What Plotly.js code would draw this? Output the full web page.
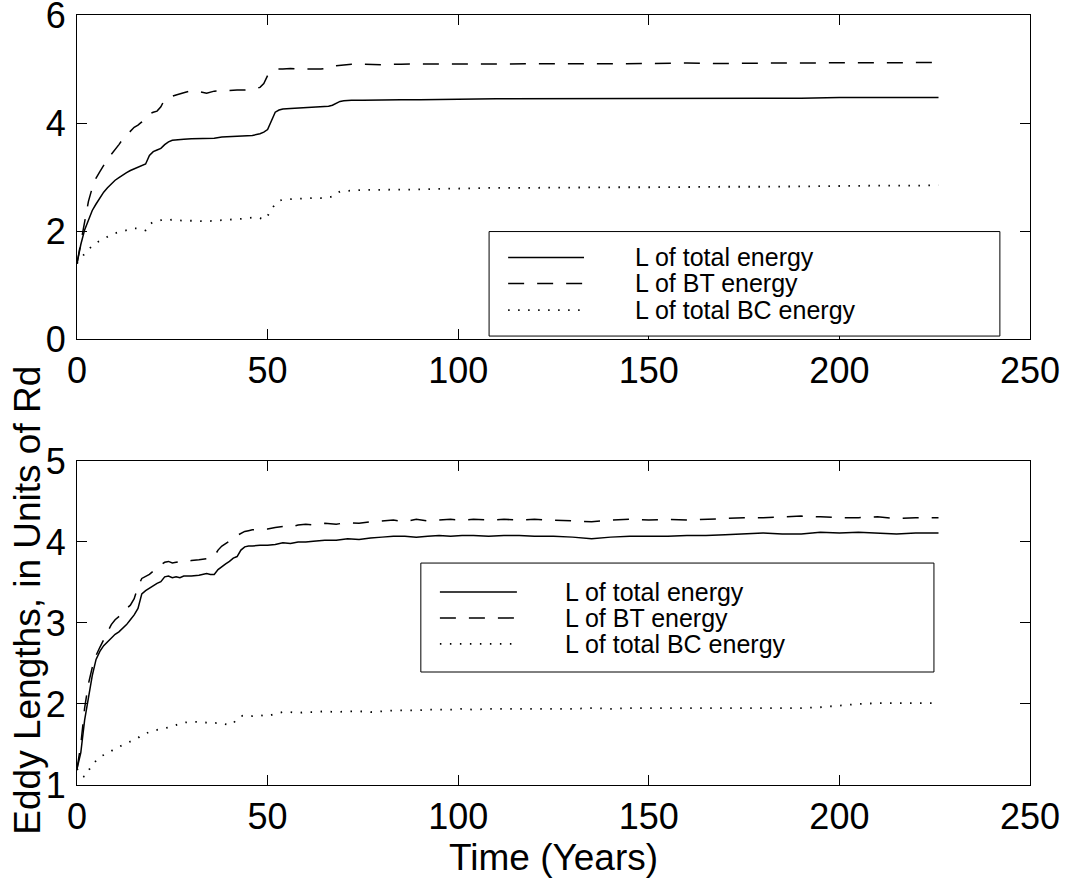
<!DOCTYPE html>
<html>
<head>
<meta charset="utf-8">
<script src="https://cdn.plot.ly/plotly-3.0.1.min.js"></script>
<style>html,body{margin:0;padding:0;background:#fff;}#chart{width:1068px;height:878px;}</style>
</head>
<body>
<div id="chart"></div>
<script>
// ---------- data ----------
const topYears = [0,1,2,3,4,5,6,7,8,9,10,11,12,13,14,15,16,17,18,19,20,21,22,23,24,25,26,
  28,30,32,34,36,38,40,42,44,46,48,49,50,51,52,53,54,56,58,60,62,64,66,67,68,69,70,
  72,75,80,85,90,95,100,110,120,130,140,150,160,170,180,190,200,210,220,226];
const topTotal = [1.40,1.75,2.02,2.22,2.38,2.50,2.62,2.72,2.80,2.88,2.94,2.99,3.04,3.08,3.12,3.15,3.18,3.20,3.24,3.40,3.47,3.50,3.53,3.60,3.65,3.68,3.69,
  3.70,3.71,3.71,3.72,3.72,3.74,3.75,3.76,3.76,3.77,3.80,3.83,3.88,4.05,4.20,4.24,4.26,4.27,4.28,4.29,4.30,4.30,4.31,4.33,4.37,4.40,4.41,
  4.42,4.42,4.43,4.43,4.43,4.44,4.44,4.45,4.45,4.46,4.45,4.46,4.46,4.46,4.46,4.46,4.47,4.47,4.47,4.47];
const topBT = [1.40,1.80,2.20,2.55,2.80,2.98,3.10,3.22,3.33,3.42,3.50,3.60,3.70,3.78,3.85,3.92,3.96,4.02,4.10,4.17,4.20,4.22,4.30,4.44,4.47,4.50,4.52,
  4.56,4.60,4.58,4.55,4.59,4.60,4.60,4.61,4.61,4.62,4.66,4.73,4.88,4.95,4.98,5.00,5.00,5.01,5.00,5.00,4.99,5.00,5.02,5.05,5.06,5.07,5.08,
  5.09,5.09,5.08,5.09,5.09,5.09,5.10,5.10,5.09,5.10,5.10,5.10,5.11,5.10,5.11,5.11,5.12,5.11,5.12,5.12];
const topBC = [1.40,1.50,1.58,1.66,1.72,1.78,1.82,1.86,1.90,1.93,1.96,1.98,2.00,2.02,2.04,2.05,2.05,2.04,2.01,2.12,2.17,2.19,2.20,2.21,2.20,2.21,2.20,
  2.19,2.19,2.18,2.18,2.19,2.20,2.20,2.21,2.23,2.25,2.24,2.21,2.28,2.40,2.50,2.56,2.58,2.59,2.60,2.60,2.61,2.61,2.62,2.64,2.70,2.73,2.74,
  2.75,2.76,2.76,2.77,2.77,2.78,2.79,2.80,2.80,2.81,2.81,2.81,2.82,2.82,2.82,2.83,2.83,2.84,2.84,2.85];

const botYears = [0,1,2,3,4,5,6,7,8,9,10,11,12,13,14,15,16,17,18,19,20,21,22,23,24,25,26,27,28,
  30,32,34,35,36,37,38,39,40,41,42,43,44,45,46,48,50,52,54,56,58,60,62,
  65,68,71,74,77,80,83,86,89,92,95,98,101,104,108,112,116,120,
  125,130,135,140,145,150,155,160,165,170,175,180,185,190,195,200,205,210,215,220,226];
const botTotal = [1.20,1.40,1.80,2.10,2.35,2.55,2.65,2.72,2.77,2.82,2.86,2.89,2.93,2.98,3.04,3.10,3.18,3.36,3.40,3.43,3.47,3.49,3.51,3.57,3.58,3.56,3.57,3.56,3.58,
  3.58,3.59,3.61,3.60,3.60,3.66,3.70,3.73,3.76,3.80,3.82,3.90,3.94,3.95,3.95,3.96,3.96,3.97,3.99,3.98,4.00,4.00,4.01,
  4.02,4.02,4.04,4.03,4.05,4.06,4.07,4.07,4.06,4.07,4.08,4.07,4.08,4.08,4.07,4.08,4.08,4.07,
  4.07,4.06,4.04,4.06,4.07,4.07,4.07,4.08,4.08,4.09,4.10,4.11,4.10,4.10,4.12,4.11,4.12,4.11,4.10,4.11,4.11];
const botBT = [1.20,1.50,1.95,2.25,2.45,2.60,2.70,2.80,2.90,2.98,3.04,3.08,3.12,3.18,3.22,3.30,3.45,3.55,3.57,3.60,3.64,3.67,3.72,3.75,3.76,3.74,3.75,3.76,3.75,
  3.77,3.78,3.79,3.80,3.82,3.90,3.95,3.98,4.00,4.04,4.08,4.11,4.13,4.14,4.15,4.16,4.16,4.18,4.19,4.18,4.21,4.22,4.21,
  4.23,4.22,4.24,4.23,4.25,4.26,4.27,4.25,4.28,4.26,4.27,4.28,4.27,4.28,4.27,4.28,4.27,4.28,
  4.27,4.26,4.25,4.27,4.28,4.27,4.28,4.27,4.28,4.29,4.30,4.30,4.31,4.32,4.31,4.30,4.30,4.31,4.29,4.30,4.30];
const botBC = [1.20,1.12,1.10,1.18,1.25,1.30,1.35,1.37,1.39,1.42,1.45,1.47,1.49,1.51,1.53,1.55,1.58,1.62,1.64,1.66,1.67,1.68,1.69,1.70,1.71,1.72,1.74,1.76,1.77,
  1.78,1.78,1.77,1.77,1.76,1.77,1.76,1.75,1.74,1.76,1.82,1.85,1.86,1.86,1.85,1.86,1.85,1.88,1.90,1.90,1.89,1.90,1.90,
  1.91,1.90,1.91,1.91,1.90,1.91,1.92,1.92,1.92,1.93,1.93,1.93,1.94,1.93,1.94,1.94,1.94,1.94,
  1.94,1.94,1.95,1.94,1.95,1.95,1.95,1.95,1.95,1.95,1.95,1.95,1.95,1.95,1.96,1.98,2.00,2.01,2.01,2.01,2.01];

const seriesNames = ["L of total energy", "L of BT energy", "L of total BC energy"];
const xTicks = [0,50,100,150,200,250];
const topYTicks = [0,2,4,6];
const botYTicks = [1,2,3,4,5];
const xTitle = "Time (Years)";
const yTitle = "Eddy Lengths, in Units of Rd";

// ---------- styles ----------
const FONT = '"Liberation Sans", Arial, Helvetica, sans-serif';
const dashStyles = ["solid", "16px,13px", "1.5px,8.5px"];
const lineW = [1.5, 1.5, 1.8];

function mk(x, y, i, xa, ya) {
  return {x: x, y: y, type: 'scatter', mode: 'lines', name: seriesNames[i],
    xaxis: xa, yaxis: ya, showlegend: false,
    line: {color: '#000', width: lineW[i], dash: dashStyles[i]}};
}
const traces = [
  mk(topYears, topTotal, 0, 'x', 'y'),
  mk(topYears, topBT, 1, 'x', 'y'),
  mk(topYears, topBC, 2, 'x', 'y'),
  mk(botYears, botTotal, 0, 'x2', 'y2'),
  mk(botYears, botBT, 1, 'x2', 'y2'),
  mk(botYears, botBC, 2, 'x2', 'y2')
];

const axBase = {showline: true, linecolor: '#000', linewidth: 1, mirror: 'ticks',
  ticks: 'inside', ticklen: 10, tickwidth: 1, tickcolor: '#000',
  showgrid: false, zeroline: false, fixedrange: true, ticklabeloverflow: 'allow',
  tickfont: {family: FONT, size: 36, color: '#000'}};

function legendParts(xref, yref, box, rows, sample, textX) {
  const shapes = [{type: 'rect', xref: xref, yref: yref, x0: box[0], x1: box[1], y0: box[2], y1: box[3],
    line: {color: '#000', width: 1}, fillcolor: '#fff', layer: 'above'}];
  const ann = [];
  rows.forEach((ry, i) => {
    shapes.push({type: 'line', xref: xref, yref: yref, x0: sample[0], x1: sample[1], y0: ry, y1: ry,
      line: {color: '#000', width: lineW[i], dash: dashStyles[i]}, layer: 'above'});
    ann.push({xref: xref, yref: yref, x: textX, y: ry, text: seriesNames[i], showarrow: false,
      xanchor: 'left', yanchor: 'middle', font: {family: FONT, size: 25, color: '#000'}});
  });
  return {shapes, ann};
}
const legTop = legendParts('x', 'y', [108.1, 242.1, 1.99, 0.055], [1.51, 1.03, 0.535], [113.1, 133.0], 145.9);
const legBot = legendParts('x2', 'y2', [90.2, 224.8, 3.74, 2.395], [3.383, 3.062, 2.741], [95.2, 115.4], 127.5);

const layout = {
  width: 1068, height: 878,
  margin: {l: 77, r: 38, t: 15, b: 93},
  paper_bgcolor: '#fff', plot_bgcolor: '#fff',
  font: {family: FONT, color: '#000'},
  showlegend: false,
  xaxis: Object.assign({}, axBase, {domain: [0, 1], range: [0, 250], tickvals: xTicks, anchor: 'y', ticklabelstandoff: 0}),
  yaxis: Object.assign({}, axBase, {domain: [0.5792, 1], range: [0, 6], tickvals: topYTicks, anchor: 'x', ticklabelstandoff: 3}),
  xaxis2: Object.assign({}, axBase, {domain: [0, 1], range: [0, 250], tickvals: xTicks, anchor: 'y2', ticklabelstandoff: 0}),
  yaxis2: Object.assign({}, axBase, {domain: [0, 0.4208], range: [1, 5], tickvals: botYTicks, anchor: 'x2', ticklabelstandoff: 3}),
  shapes: legTop.shapes.concat(legBot.shapes),
  annotations: legTop.ann.concat(legBot.ann).concat([
    {xref: 'paper', yref: 'paper', x: 0.5, y: -0.094, text: xTitle, showarrow: false,
     xanchor: 'center', yanchor: 'middle', font: {family: FONT, size: 37, color: '#000'}},
    {xref: 'paper', yref: 'paper', x: -0.052, y: 0.24, text: yTitle, showarrow: false, textangle: -90,
     xanchor: 'center', yanchor: 'middle', font: {family: FONT, size: 37, color: '#000'}}
  ])
};

Plotly.newPlot('chart', traces, layout, {staticPlot: true, displayModeBar: false});
</script>
</body>
</html>
